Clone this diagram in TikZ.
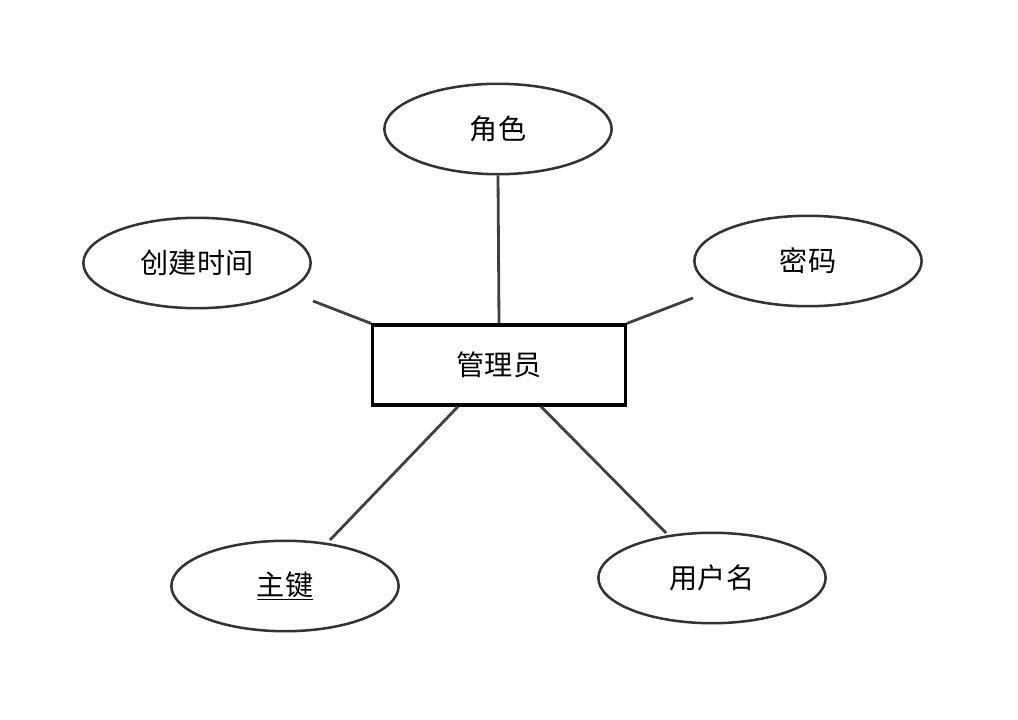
\documentclass[tikz,border=0pt]{standalone}
\usepackage{fontspec}
\newfontfamily\cjk{Noto Sans CJK SC}
\usepackage{tikz}
\usetikzlibrary{shapes.geometric,calc}

\begin{document}
\begin{tikzpicture}[x=0.025cm, y=-0.025cm,
  font=\cjk\fontsize{20}{24}\selectfont,
  attr/.style={ellipse, draw=black!80, line width=1.8pt, minimum width=5.68cm, minimum height=2.26cm, inner sep=0pt},
  entity/.style={rectangle, draw=black, line width=2.2pt, minimum width=6.32cm, minimum height=2cm, inner sep=0pt},
  link/.style={black!75, line width=2pt}]
\useasboundingbox (0,0) rectangle (1018,720);
% entity
\node[entity] (admin) at (499,365) {管理员};
% attributes
\node[attr] (role)  at (498,129) {角色};
\node[attr] (ctime) at (197,263) {创建时间};
\node[attr] (pwd)   at (808,261) {密码};
\node[attr] (pkey)  at (285,586) {\underline{主键}};
\node[attr] (uname) at (712,578) {用户名};
% free ends of the connectors
\coordinate (ctimeEnd) at (313,301);
\coordinate (pwdEnd)   at (693,298);
\coordinate (pkeyEnd)  at (330,540);
\coordinate (unameEnd) at (666,533);
% connectors
\draw[link] (role.south) -- (admin.north);
\draw[link] (ctimeEnd) -- (admin.north west);
\draw[link] (pwdEnd) -- (admin.north east);
\draw[link] (pkeyEnd) -- ($(admin.south)+(-41,0)$);
\draw[link] (unameEnd) -- ($(admin.south)+(42,0)$);
\end{tikzpicture}
\end{document}
